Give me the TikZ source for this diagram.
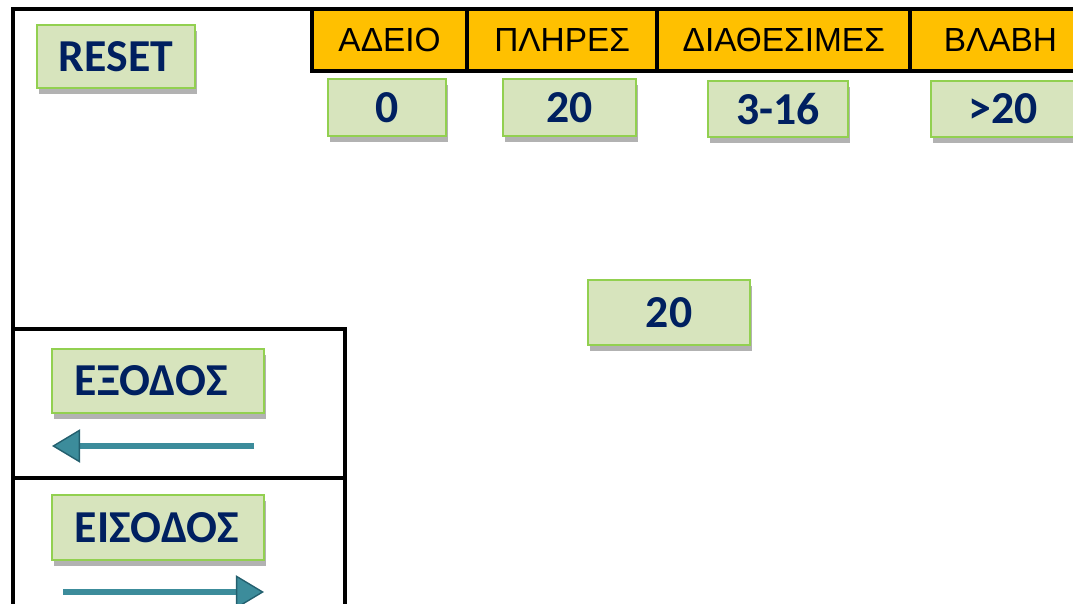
\documentclass[tikz,border=0pt]{standalone}
\usepackage{fontspec}
\newfontfamily\boxfont{Carlito}
\newfontfamily\headfont{Liberation Sans}
\usetikzlibrary{positioning,shadows,arrows.meta}
\definecolor{headorange}{RGB}{255,192,0}
\definecolor{boxfill}{RGB}{215,228,189}
\definecolor{boxline}{RGB}{146,208,80}
\definecolor{navy}{RGB}{0,32,96}
\definecolor{arrowteal}{RGB}{60,140,155}
\definecolor{arrowdark}{RGB}{35,95,110}
\tikzset{
  frame/.style={line width=1.1pt},
  headcell/.style={draw, frame, fill=headorange, outer sep=0pt, minimum height=0.62cm,
    font=\headfont\fontsize{9.5}{11}\selectfont},
  greenbox/.style={draw=boxline, line width=0.6pt, fill=boxfill, text=navy,
    font=\boxfont\bfseries\fontsize{13}{15}\selectfont,
    drop shadow={shadow xshift=0.6pt, shadow yshift=-1.7pt, opacity=0.3, fill=black}},
  tealarrow/.style={draw=arrowteal, line width=1.8pt,
    -{Triangle[length=8pt,width=9.5pt,fill=arrowteal,color=arrowdark,line width=0.4pt]}}
}
\begin{document}
\begin{tikzpicture}[x=0.01cm,y=-0.01cm]
    \useasboundingbox (0,0) rectangle (1073,604);
    \draw[frame] (13,620) -- (13,9) -- (312,9);
    \draw[frame] (13,329) rectangle (345,478);
    \draw[frame] (13,478) rectangle (345,620);
    \node[headcell, minimum width=1.55cm, anchor=west] (empty) at (312,40) {ΑΔΕΙΟ};
    \node[headcell, minimum width=1.90cm, right=0pt of empty] (full) {ΠΛΗΡΕΣ};
    \node[headcell, minimum width=2.53cm, right=0pt of full] (free) {ΔΙΑΘΕΣΙΜΕΣ};
    \node[headcell, minimum width=1.80cm, right=0pt of free] (fault) {ΒΛΑΒΗ};
    \node[greenbox, minimum width=1.58cm, minimum height=0.63cm] (reset) at (116,56.5) {RESET};
    \node[greenbox, minimum width=1.18cm, minimum height=0.57cm] (vempty) at (387,107.5) {0};
    \node[greenbox, minimum width=1.33cm, minimum height=0.57cm] (vfull) at (569.5,107.5) {20};
    \node[greenbox, minimum width=1.40cm, minimum height=0.56cm] (vfree) at (778,109) {3-16};
    \node[greenbox, minimum width=1.44cm, minimum height=0.56cm] (vfault) at (1003,109) {>20};
    \node[greenbox, minimum width=1.62cm, minimum height=0.65cm] (count) at (669,312.5) {20};
    \node[greenbox, text width=1.66cm, inner xsep=0.23cm, align=left, minimum height=0.64cm] (exit) at (158,381) {ΕΞΟΔΟΣ};
    \node[greenbox, text width=1.66cm, inner xsep=0.23cm, align=left, minimum height=0.65cm] (entry) at (158,527.5) {ΕΙΣΟΔΟΣ};
    \coordinate (exitfrom) at (254,446);
    \coordinate (exitto) at (52,446);
    \coordinate (entryfrom) at (63,592);
    \coordinate (entryto) at (264,592);
    \draw[tealarrow] (exitfrom) -- (exitto);
    \draw[tealarrow] (entryfrom) -- (entryto);
\end{tikzpicture}
\end{document}
